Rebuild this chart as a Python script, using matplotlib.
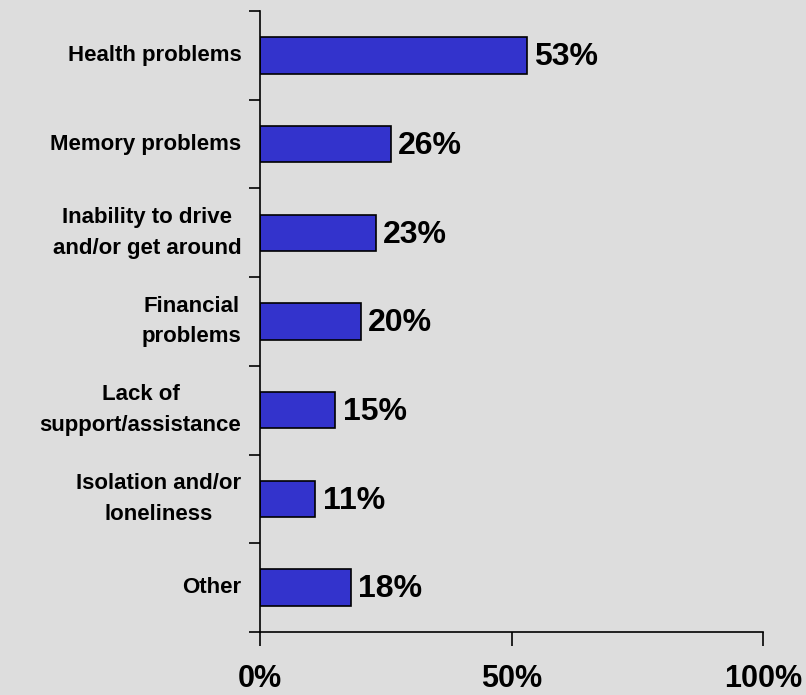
import matplotlib
matplotlib.use("Agg")
import matplotlib.pyplot as plt

categories = ["Health problems", "Memory problems", "Inability to drive\nand/or get around",
              "Financial\nproblems", "Lack of\nsupport/assistance", "Isolation and/or\nloneliness", "Other"]
values = [53, 26, 23, 20, 15, 11, 18]
xticks = [0, 50, 100]
xticklabels = ["0%", "50%", "100%"]

bg = "#DDDDDD"
plt.rcParams['font.family'] = ['Liberation Sans', 'DejaVu Sans']

fig = plt.figure(figsize=(8.06, 6.95), dpi=100, facecolor=bg)
ax = fig.add_axes([260/806, 1 - 632/695, (763-260)/806, (632-11)/695], facecolor=bg)

n = len(categories)
ypos = list(range(n))
ax.barh(ypos, values, height=0.41, color="#3333CC", edgecolor="black", linewidth=1.2)
ax.set_ylim(n - 0.5, -0.5)
ax.set_xlim(0, 100)

for y, v in zip(ypos, values):
    ax.text(v + 1.5, y + 0.02, f"{v}%", va="center", ha="left", fontsize=23, fontweight="bold")

for y, c in zip(ypos, categories):
    ax.text(-3.7, y, c, ha="right", va="center", multialignment="center",
            fontsize=16, fontweight="bold", linespacing=1.6, transform=ax.transData)

ax.set_yticks([i - 0.5 for i in range(n + 1)])
ax.set_yticklabels([])
ax.tick_params(axis="y", direction="out", length=8, width=1.2)
ax.set_xticks(xticks)
ax.set_xticklabels(xticklabels, fontsize=22, fontweight="bold")
ax.tick_params(axis="x", direction="out", length=10, width=1.2, pad=13)

for s in ["top", "right"]:
    ax.spines[s].set_visible(False)
for s in ["left", "bottom"]:
    ax.spines[s].set_linewidth(1.2)

fig.savefig("out.png", dpi=100, facecolor=bg)
